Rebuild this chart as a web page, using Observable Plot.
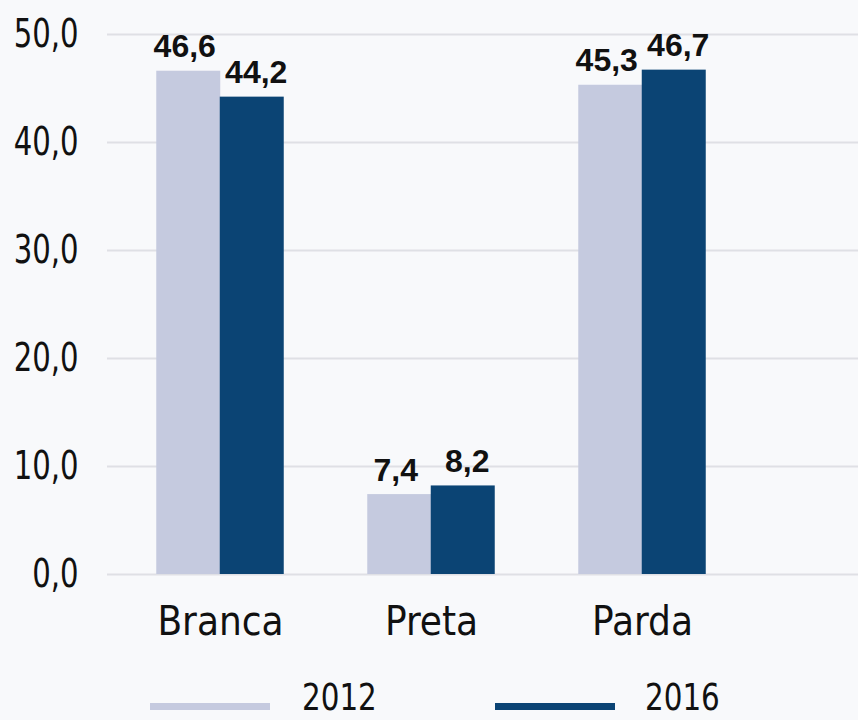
<!DOCTYPE html>
<html>
<head>
<meta charset="utf-8">
<script src="https://cdn.jsdelivr.net/npm/d3@7"></script>
<script src="https://cdn.jsdelivr.net/npm/@observablehq/plot@0.6"></script>
<style>
  html, body { margin: 0; padding: 0; background: #f8f9fb; }
  body { width: 858px; height: 720px; overflow: hidden; position: relative;
         font-family: "DejaVu Sans Condensed", "Liberation Sans", sans-serif; color: #111; }
  #chart svg { display: block; }
  .legend { position: relative; height: 55px; }
  .legend .sw { position: absolute; top: 38px; width: 120px; height: 7px; }
  .legend .lb { position: absolute; top: 17px; font-size: 38px; line-height: 30px; height: 30px; color: #111;
                transform: scaleX(0.86); transform-origin: left center; white-space: nowrap; }
</style>
</head>
<body>
<div id="chart"></div>
<div class="legend" id="legend"></div>
<script>
const categories = ["Branca", "Preta", "Parda"];
const years = ["2012", "2016"];
const values2012 = [46.6, 7.4, 45.3];
const values2016 = [44.2, 8.2, 46.7];
const yTicks = [0, 10, 20, 30, 40, 50];
const colors = ["#c5cadf", "#0b4474"];

const fmt = d => d.toFixed(1).replace(".", ",");
const rows2012 = categories.map((c, i) => ({category: c, year: years[0], value: values2012[i]}));
const rows2016 = categories.map((c, i) => ({category: c, year: years[1], value: values2016[i]}));

const half = 31.75;
const narrow = '"DejaVu Sans Condensed", "Liberation Sans", sans-serif';
const bold = '"Liberation Sans", Arial, sans-serif';

const chart = Plot.plot({
  width: 858,
  height: 665,
  marginLeft: 107,
  marginRight: 0,
  marginTop: 34,
  marginBottom: 91,
  style: {background: "transparent", color: "#111", fontFamily: narrow},
  x: {domain: categories, range: [82.75, 779.3], paddingInner: 0.699, paddingOuter: 0.5, align: 0.5, axis: null},
  y: {domain: [0, 50], axis: null},
  marks: [
    Plot.ruleY(yTicks, {y: d => d, stroke: "#dfe0e5", strokeWidth: 2}),
    Plot.text(yTicks, {y: d => d, text: d => fmt(d), frameAnchor: "left", textAnchor: "end", dx: -29, fontSize: 39, fill: "#111"}),
    Plot.text(categories, {x: d => d, text: d => d, frameAnchor: "bottom", lineAnchor: "top", dy: 32, fontSize: 40, fill: "#111"}),
    Plot.barY(rows2012, {x: "category", y: "value", fill: colors[0], dx: -half}),
    Plot.barY(rows2016, {x: "category", y: "value", fill: colors[1], dx: half}),
    Plot.text(rows2012, {x: "category", y: "value", text: d => fmt(d.value), dx: -half - 4, dy: -14, lineAnchor: "bottom", fontSize: 32, fontWeight: "bold", fontFamily: bold, fill: "#111", style: "letter-spacing:2px"}),
    Plot.text(rows2016, {x: "category", y: "value", text: d => fmt(d.value), dx: half + 4, dy: -14, lineAnchor: "bottom", fontSize: 32, fontWeight: "bold", fontFamily: bold, fill: "#111", style: "letter-spacing:2px"})
  ]
});
document.getElementById("chart").appendChild(chart);

// condensed look for the y tick labels
const tickTexts = new Set(yTicks.map(fmt));
chart.querySelectorAll("text").forEach(t => {
  if (tickTexts.has(t.textContent) && t.getAttribute("font-weight") !== "bold" && !(t.parentNode && t.parentNode.getAttribute("font-weight") === "bold")) {
    const w = t.getComputedTextLength();
    if (w > 0) {
      t.setAttribute("textLength", (w * 0.83).toFixed(1));
      t.setAttribute("lengthAdjust", "spacingAndGlyphs");
    }
  }
});

const legend = document.getElementById("legend");
const swLeft = [150, 495];
const lbLeft = [302, 645];
years.forEach((y, i) => {
  const sw = document.createElement("div");
  sw.className = "sw";
  sw.style.left = swLeft[i] + "px";
  sw.style.background = colors[i];
  legend.appendChild(sw);
  const lb = document.createElement("div");
  lb.className = "lb";
  lb.style.left = lbLeft[i] + "px";
  lb.textContent = y;
  legend.appendChild(lb);
});
</script>
</body>
</html>
